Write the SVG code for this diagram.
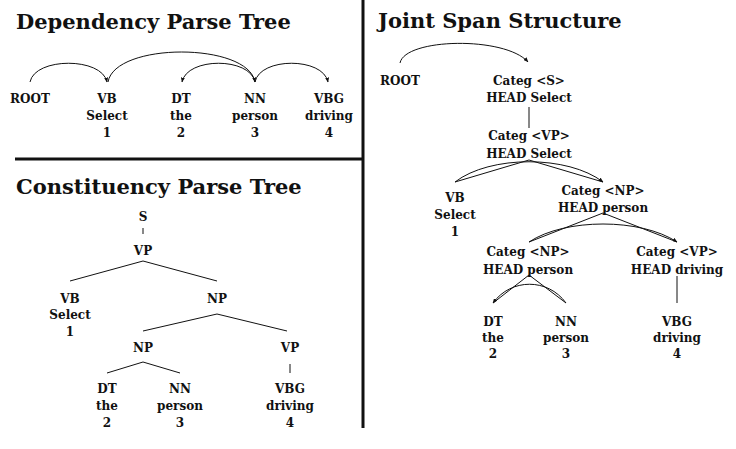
<svg xmlns="http://www.w3.org/2000/svg" width="736" height="449" viewBox="0 0 736 449">
<style>
.t{font-family:"DejaVu Serif","Liberation Serif",serif;font-weight:bold;font-size:21px;fill:#111}
.l{font-family:"DejaVu Serif","Liberation Serif",serif;font-weight:bold;font-size:12px;fill:#111;text-anchor:middle}
.e{fill:none;stroke:#111;stroke-width:1}
.a{fill:none;stroke:#111;stroke-width:1;marker-end:url(#ah)}
.d{stroke:#111;stroke-width:3}
</style>
<defs>
<marker id="ah" viewBox="0 0 5 4" refX="4.5" refY="2" markerWidth="5" markerHeight="4" markerUnits="userSpaceOnUse" orient="auto">
<path d="M0,0 L5,2 L0,4 z" fill="#111"/>
</marker>
</defs>
<rect width="736" height="449" fill="#fff"/>
<g id="dividers">
<line class="d" x1="15" y1="159" x2="363" y2="159"/>
<line class="d" x1="363" y1="0" x2="363" y2="428"/>
</g>
<g id="titles">
<text class="t" x="16" y="29">Dependency Parse Tree</text>
<text class="t" x="16" y="194">Constituency Parse Tree</text>
<text class="t" x="378" y="28">Joint Span Structure</text>
</g>
<g id="connectors">
<path class="a" d="M30,82 C35,57 102,57 107,82"/>
<path class="a" d="M108,82 C115,42 248,42 255,82"/>
<path class="a" d="M255,82 C250,57 187,57 182,82"/>
<path class="a" d="M255,82 C260,57 323,57 328,82"/>
<line class="e" x1="143" y1="228" x2="143" y2="234"/>
<line class="e" x1="143" y1="261" x2="70" y2="281"/>
<line class="e" x1="143" y1="261" x2="217" y2="281"/>
<line class="e" x1="217" y1="314" x2="143" y2="331"/>
<line class="e" x1="217" y1="314" x2="287" y2="331"/>
<line class="e" x1="143" y1="362" x2="107" y2="373"/>
<line class="e" x1="143" y1="362" x2="180" y2="373"/>
<line class="e" x1="290" y1="364" x2="290" y2="373"/>
<path class="a" d="M400,63 C405,38 505,36 528,62"/>
<line class="e" x1="529" y1="107" x2="529" y2="128"/>
<line class="e" x1="529" y1="160" x2="455" y2="182"/>
<line class="e" x1="529" y1="160" x2="603" y2="182"/>
<path class="a" d="M455,182 C490,155 568,155 603,182"/>
<line class="e" x1="603" y1="213" x2="529" y2="242"/>
<line class="e" x1="603" y1="213" x2="677" y2="242"/>
<path class="a" d="M529,242 C565,218 641,218 677,242"/>
<line class="e" x1="529" y1="275" x2="493" y2="303"/>
<line class="e" x1="529" y1="275" x2="566" y2="303"/>
<path class="a" d="M566,303 C548,278 511,278 493,303"/>
<line class="e" x1="677" y1="276" x2="677" y2="303"/>
</g>
<g id="dep-root"><text class="l" x="30" y="103">ROOT</text></g>
<g id="dep-vb"><text class="l" x="107" y="103">VB</text><text class="l" x="107" y="120">Select</text><text class="l" x="107" y="137">1</text></g>
<g id="dep-dt"><text class="l" x="181" y="103">DT</text><text class="l" x="181" y="120">the</text><text class="l" x="181" y="137">2</text></g>
<g id="dep-nn"><text class="l" x="255" y="103">NN</text><text class="l" x="255" y="120">person</text><text class="l" x="255" y="137">3</text></g>
<g id="dep-vbg"><text class="l" x="329" y="103">VBG</text><text class="l" x="329" y="120">driving</text><text class="l" x="329" y="137">4</text></g>

<g id="con-s"><text class="l" x="143" y="221">S</text></g>
<g id="con-vp"><text class="l" x="143" y="255">VP</text></g>
<g id="con-vb"><text class="l" x="70" y="303">VB</text><text class="l" x="70" y="319">Select</text><text class="l" x="70" y="336">1</text></g>
<g id="con-np"><text class="l" x="217" y="303">NP</text></g>
<g id="con-np2"><text class="l" x="143" y="352">NP</text></g>
<g id="con-vp2"><text class="l" x="290" y="352">VP</text></g>
<g id="con-dt"><text class="l" x="107" y="393">DT</text><text class="l" x="107" y="410">the</text><text class="l" x="107" y="427">2</text></g>
<g id="con-nn"><text class="l" x="180" y="393">NN</text><text class="l" x="180" y="410">person</text><text class="l" x="180" y="427">3</text></g>
<g id="con-vbg"><text class="l" x="290" y="393">VBG</text><text class="l" x="290" y="410">driving</text><text class="l" x="290" y="427">4</text></g>

<g id="js-root"><text class="l" x="400" y="85">ROOT</text></g>
<g id="js-s"><text class="l" x="529" y="85">Categ &lt;S&gt;</text><text class="l" x="529" y="102">HEAD Select</text></g>
<g id="js-vp"><text class="l" x="529" y="140">Categ &lt;VP&gt;</text><text class="l" x="529" y="158">HEAD Select</text></g>
<g id="js-vb"><text class="l" x="455" y="202">VB</text><text class="l" x="455" y="219">Select</text><text class="l" x="455" y="236">1</text></g>
<g id="js-np"><text class="l" x="603" y="195">Categ &lt;NP&gt;</text><text class="l" x="603" y="212">HEAD person</text></g>
<g id="js-np2"><text class="l" x="528" y="256">Categ &lt;NP&gt;</text><text class="l" x="528" y="274">HEAD person</text></g>
<g id="js-vp2"><text class="l" x="677" y="256">Categ &lt;VP&gt;</text><text class="l" x="677" y="274">HEAD driving</text></g>
<g id="js-dt"><text class="l" x="493" y="326">DT</text><text class="l" x="493" y="342">the</text><text class="l" x="493" y="358">2</text></g>
<g id="js-nn"><text class="l" x="566" y="326">NN</text><text class="l" x="566" y="342">person</text><text class="l" x="566" y="358">3</text></g>
<g id="js-vbg"><text class="l" x="677" y="326">VBG</text><text class="l" x="677" y="342">driving</text><text class="l" x="677" y="358">4</text></g>
</svg>
